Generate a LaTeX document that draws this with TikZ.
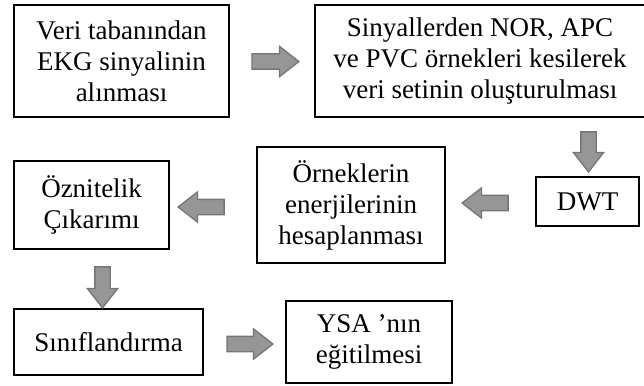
\documentclass[tikz,border=0pt]{standalone}
\usepackage{fontspec}
\setmainfont{Liberation Serif}
\usetikzlibrary{shapes.arrows}
\definecolor{arrowfill}{RGB}{150,150,150}
\definecolor{arrowline}{RGB}{118,118,118}
\tikzset{
    box/.style={draw, line width=1.2pt, align=center, inner sep=0pt,
        font=\fontsize{27}{31}\selectfont},
    fatarrow/.style={single arrow, draw=arrowline, fill=arrowfill,
        line width=1.3pt, inner sep=7pt, minimum width=0pt,
        single arrow head extend=7.5pt, single arrow tip angle=76},
}
\begin{document}
\begin{tikzpicture}[x=1pt,y=-1pt]
        \useasboundingbox (0,0) rectangle (644,385);
        % top row
        \node[box, minimum width=215pt, minimum height=112pt] (ekg) at (121.5,61)
            {Veri tabanından\\EKG sinyalinin\\alınması};
        \node[box, minimum width=330pt, minimum height=112pt] (veriseti) at (480,61)
            {Sinyallerden NOR, APC\\ve PVC örnekleri kesilerek\\veri setinin oluşturulması};
        % middle row
        \node[box, minimum width=103pt, minimum height=49pt] (dwt) at (587.5,201.5) {DWT};
        \node[box, minimum width=188pt, minimum height=116pt] (enerji) at (351,205)
            {Örneklerin\\enerjilerinin\\hesaplanması};
        \node[box, minimum width=155pt, minimum height=88pt] (oznitelik) at (91.5,205)
            {Öznitelik\\Çıkarımı};
        % bottom row
        \node[box, minimum width=189pt, minimum height=66pt] (siniflama) at (108.5,342)
            {Sınıflandırma};
        \node[box, minimum width=166pt, minimum height=82pt] (ysa) at (369,342)
            {YSA ’nın\\eğitilmesi};
        % block arrows
        \node[fatarrow, minimum height=47pt] (ekgveri) at (270.5,61.5) {};
        \node[fatarrow, minimum height=40pt, shape border rotate=270] (veridwt) at (588.5,147) {};
        \node[fatarrow, minimum height=46pt, shape border rotate=180] (dwtenerji) at (490,203) {};
        \node[fatarrow, minimum height=46pt, shape border rotate=180] (enerjiozn) at (206,207) {};
        \node[fatarrow, minimum height=41pt, shape border rotate=270] (oznsinif) at (102.5,282.5) {};
        \node[fatarrow, minimum height=46pt] (sinifysa) at (245,344) {};
    \end{tikzpicture}
\end{document}
